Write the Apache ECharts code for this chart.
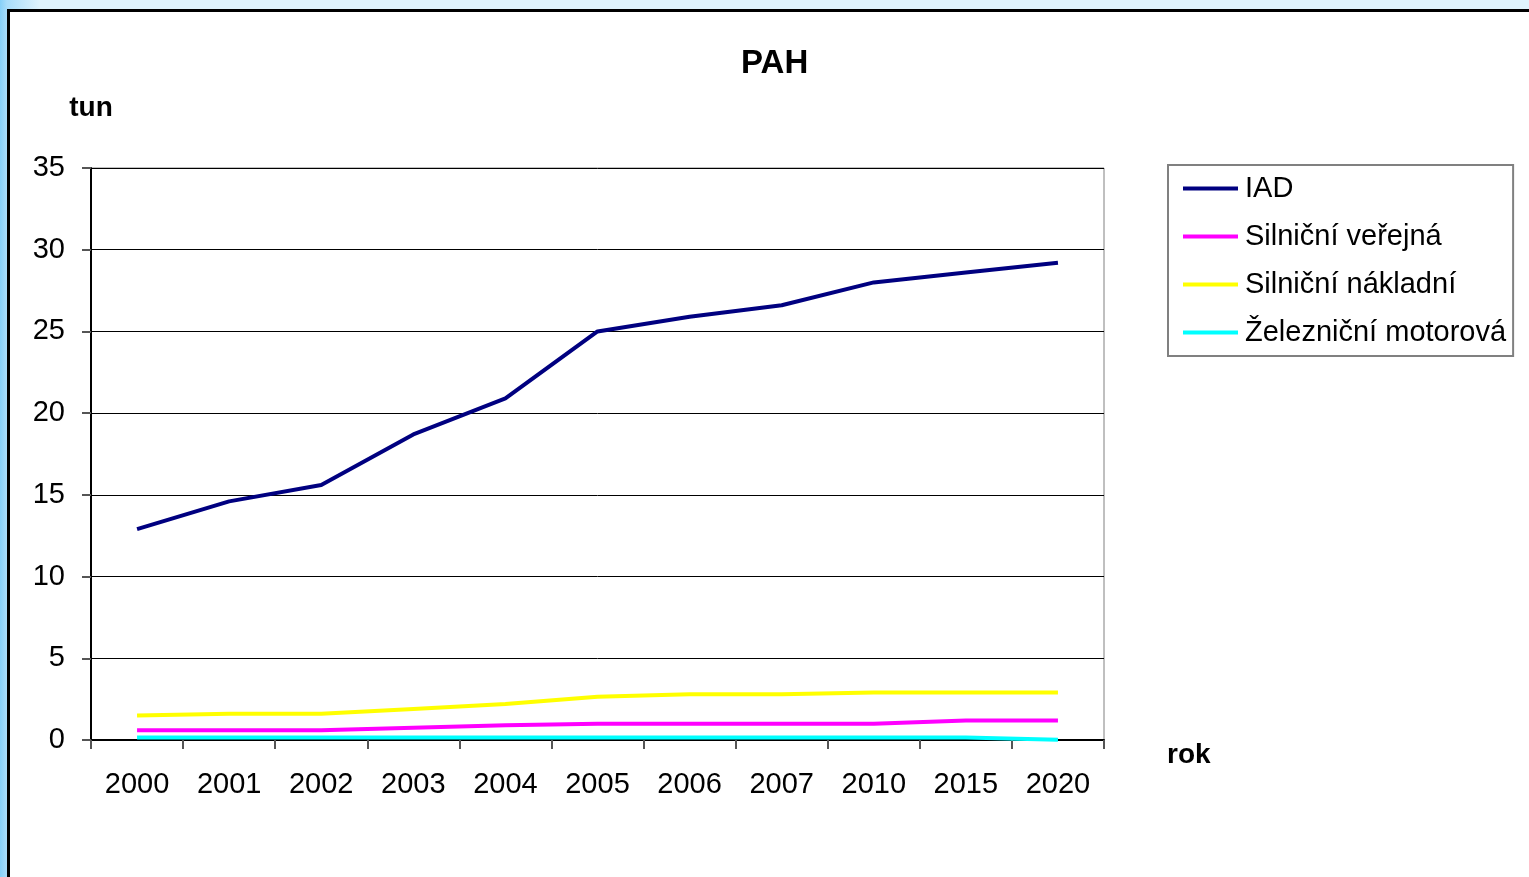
<!DOCTYPE html>
<html lang="cs">
<head>
<meta charset="UTF-8">
<title>PAH</title>
<script src="https://cdn.jsdelivr.net/npm/echarts@6/dist/echarts.min.js"></script>
<style>
    html, body {
        margin: 0;
        padding: 0;
        width: 1529px;
        height: 877px;
        overflow: hidden;
        background: linear-gradient(to right, #86d0f8 0px, #a9ddfa 7px, #dff3fc 40px);
    }
    #frame {
        position: absolute;
        left: 7px;
        top: 9px;
        width: 1600px;
        height: 1000px;
        background: #fff;
        border: 3px solid #000;
    }
    #chart {
        position: absolute;
        left: 0;
        top: 0;
        width: 1529px;
        height: 877px;
    }
</style>
</head>
<body>
<div id="frame"></div>
<div id="chart"></div>
<script>
// data
const years = ['2000', '2001', '2002', '2003', '2004', '2005', '2006', '2007', '2010', '2015', '2020'];
const iad = [12.9, 14.6, 15.6, 18.7, 20.9, 25.0, 25.9, 26.6, 28.0, 28.6, 29.2];
const silnicniVerejna = [0.6, 0.6, 0.6, 0.75, 0.9, 1.0, 1.0, 1.0, 1.0, 1.2, 1.2];
const silnicniNakladni = [1.5, 1.6, 1.6, 1.9, 2.2, 2.65, 2.8, 2.8, 2.9, 2.9, 2.9];
const zeleznicniMotorova = [0.15, 0.15, 0.15, 0.15, 0.15, 0.15, 0.15, 0.15, 0.15, 0.15, 0.02];

const font = 'Liberation Sans, Arial, sans-serif';

function line(name, data, color) {
    return {
        name: name,
        type: 'line',
        data: data,
        showSymbol: false,
        lineStyle: { color: color, width: 4 },
        itemStyle: { color: color },
        animation: false
    };
}

const chart = echarts.init(document.getElementById('chart'));
chart.setOption({
    backgroundColor: 'transparent',
    textStyle: { fontFamily: font },
    title: {
        text: 'PAH',
        left: 736,
        top: 42,
        textStyle: { fontSize: 33, fontWeight: 'bold', color: '#000', fontFamily: font }
    },
    legend: {
        orient: 'vertical',
        left: 1168,
        top: 165,
        padding: [9, 7, 9, 15],
        itemGap: 19,
        itemWidth: 55,
        itemHeight: 4,
        icon: 'rect',
        borderColor: '#808080',
        borderWidth: 2,
        backgroundColor: '#fff',
        textStyle: { fontSize: 29, color: '#000', fontFamily: font, lineHeight: 29, padding: [0, 0, 0, 2] },
        data: ['IAD', 'Silniční veřejná', 'Silniční nákladní', 'Železniční motorová']
    },
    grid: {
        left: 91,
        top: 168,
        right: 425,
        bottom: 137,
        show: true,
        borderColor: '#808080',
        borderWidth: 1,
        backgroundColor: 'transparent'
    },
    xAxis: {
        type: 'category',
        data: years,
        boundaryGap: true,
        axisLine: { lineStyle: { color: '#000', width: 2 } },
        axisTick: { show: true, inside: false, length: 9, lineStyle: { color: '#555', width: 2 } },
        axisLabel: { fontSize: 29, color: '#000', margin: 30, fontFamily: font },
        splitLine: { show: false }
    },
    yAxis: {
        type: 'value',
        min: 0,
        max: 35,
        interval: 5,
        name: 'tun',
        nameLocation: 'end',
        nameGap: 46,
        nameTextStyle: { fontSize: 28, fontWeight: 'bold', color: '#000', align: 'center', fontFamily: font },
        axisLine: { show: true, lineStyle: { color: '#000', width: 2 } },
        axisTick: { show: true, inside: false, length: 9, lineStyle: { color: '#555', width: 2 } },
        axisLabel: { fontSize: 29, color: '#000', margin: 26, fontFamily: font },
        splitLine: { show: true, lineStyle: { color: '#000', width: 1 } }
    },
    graphic: [{
        type: 'text',
        left: 1167,
        top: 741,
        style: { text: 'rok', font: 'bold 28px ' + font, fill: '#000' }
    }],
    series: [
        line('IAD', iad, '#000080'),
        line('Silniční veřejná', silnicniVerejna, '#ff00ff'),
        line('Silniční nákladní', silnicniNakladni, '#ffff00'),
        line('Železniční motorová', zeleznicniMotorova, '#00ffff')
    ]
});
</script>
</body>
</html>
